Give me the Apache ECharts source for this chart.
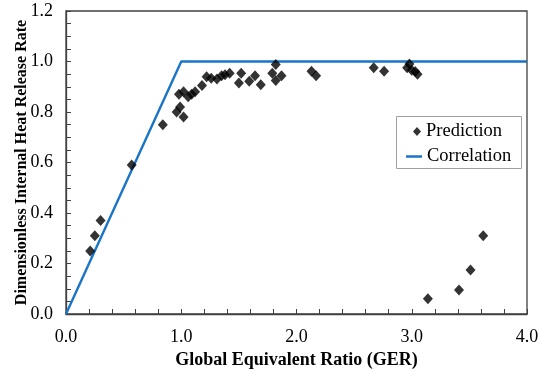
<!DOCTYPE html>
<html>
<head>
<meta charset="utf-8">
<script src="https://cdn.jsdelivr.net/npm/echarts@6/dist/echarts.min.js"></script>
<style>
  html, body { margin: 0; padding: 0; background: #fff; }
  #chart { width: 540px; height: 374px; }
</style>
</head>
<body>
<div id="chart"></div>
<script>
// Predicted points: global equivalent ratio vs. dimensionless heat release rate
const gerValues = [0.21, 0.25, 0.30, 0.57, 0.84, 0.96, 0.99, 1.02, 0.98, 1.02,
  1.06, 1.09, 1.12, 1.18, 1.22, 1.26, 1.31, 1.35, 1.38, 1.42,
  1.52, 1.50, 1.59, 1.64, 1.69, 1.79, 1.82, 1.82, 1.87, 2.13,
  2.17, 2.67, 2.76, 2.96, 2.98, 3.00, 3.03, 3.05, 3.14, 3.41,
  3.51, 3.62];
const hrrValues = [0.25, 0.31, 0.37, 0.59, 0.75, 0.80, 0.82, 0.78, 0.87, 0.88,
  0.86, 0.87, 0.88, 0.905, 0.94, 0.934, 0.931, 0.944, 0.948, 0.953,
  0.953, 0.915, 0.922, 0.944, 0.908, 0.953, 0.988, 0.925, 0.944, 0.961,
  0.944, 0.975, 0.961, 0.975, 0.99, 0.965, 0.96, 0.95, 0.06, 0.095,
  0.174, 0.31];

// Correlation: linear rise to 1 at GER = 1, constant afterwards
const corrGer = [0, 1, 4];
const corrHrr = [0, 1, 1];

const yTicks = [0, 0.2, 0.4, 0.6, 0.8, 1.0, 1.2];
const xTicks = [0, 1, 2, 3, 4];

const serif = '"Liberation Serif", "Times New Roman", serif';
const axisColor = '#404040';
const lineBlue = '#1a75c8';

const chart = echarts.init(document.getElementById('chart'));

chart.setOption({
  animation: false,
  grid: {
    left: 66, right: 13, top: 11, bottom: 60,
    outerBoundsMode: 'none',
    containLabel: false,
    show: true, borderColor: axisColor, borderWidth: 1.3,
    backgroundColor: 'transparent'
  },
  legend: [
    {
      data: [{ name: 'Prediction', icon: 'diamond' }],
      orient: 'vertical', left: 413, top: 122, padding: 0,
      itemWidth: 8, itemHeight: 9,
      textStyle: { fontFamily: serif, fontSize: 18.5, color: '#000' }
    },
    {
      data: [{ name: 'Correlation', icon: 'rect' }],
      orient: 'vertical', left: 406, top: 147, padding: 0,
      itemWidth: 16, itemHeight: 2.5,
      itemStyle: { color: lineBlue },
      textStyle: { fontFamily: serif, fontSize: 18.5, color: '#000' }
    }
  ],
  graphic: [{
    type: 'rect',
    shape: { x: 396.5, y: 116.5, width: 125, height: 52 },
    style: { fill: 'none', stroke: '#a0a0a0', lineWidth: 1 },
    z: 5
  }],
  xAxis: {
    type: 'value', min: xTicks[0], max: xTicks[xTicks.length - 1], interval: 1,
    name: 'Global Equivalent Ratio (GER)', nameLocation: 'middle', nameGap: 35,
    nameTextStyle: { fontFamily: serif, fontSize: 18, fontWeight: 'bold', color: '#000' },
    axisLine: { lineStyle: { color: axisColor, width: 1.3 } },
    axisTick: { show: true, inside: true, length: 5, lineStyle: { color: axisColor } },
    minorTick: { show: true, splitNumber: 5, length: 5, lineStyle: { color: axisColor } },
    axisLabel: { fontFamily: serif, fontSize: 18, color: '#000', margin: 14,
      formatter: v => v.toFixed(1) },
    splitLine: { show: false }
  },
  yAxis: {
    type: 'value', min: yTicks[0], max: yTicks[yTicks.length - 1], interval: 0.2,
    name: 'Dimensionless Internal Heat Release Rate', nameLocation: 'middle', nameGap: 36,
    nameMoveOverlap: false,
    nameTextStyle: { fontFamily: serif, fontSize: 16, fontWeight: 'bold', color: '#000' },
    axisLine: { lineStyle: { color: axisColor, width: 1.3 } },
    axisTick: { show: true, inside: true, length: 5, lineStyle: { color: axisColor } },
    minorTick: { show: true, splitNumber: 4, length: 5, lineStyle: { color: axisColor } },
    axisLabel: { fontFamily: serif, fontSize: 18, color: '#000', margin: 13,
      formatter: v => v.toFixed(1) },
    splitLine: { show: false }
  },
  series: [
    {
      name: 'Prediction',
      type: 'scatter',
      data: gerValues.map((g, i) => [g, hrrValues[i]]),
      symbol: 'diamond',
      symbolSize: [10, 11],
      itemStyle: { color: '#000' },
      z: 3
    },
    {
      name: 'Correlation',
      type: 'line',
      data: corrGer.map((g, i) => [g, corrHrr[i]]),
      symbol: 'none',
      lineStyle: { color: lineBlue, width: 2.4 },
      itemStyle: { color: lineBlue },
      z: 2
    }
  ]
});
</script>
</body>
</html>
